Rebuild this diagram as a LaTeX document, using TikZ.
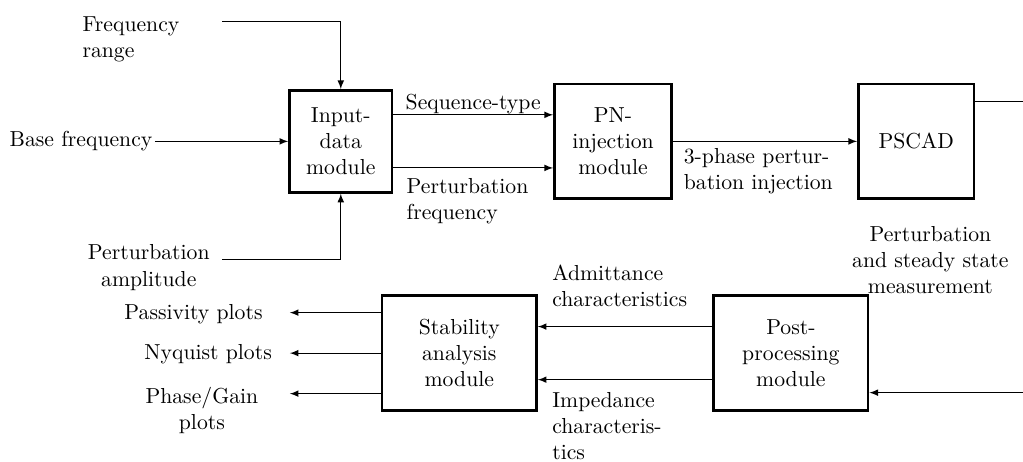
\documentclass[tikz,border=0pt]{standalone}
\usepackage{tikz}
\usetikzlibrary{arrows, calc}

\begin{document}
\begin{tikzpicture}[
        module/.style={rectangle, draw, very thick, align=center, minimum height=1.86cm},
        lbl/.style={inner sep=0pt, align=left},
        arrow/.style={->, >=latex}
    ]
        \path[use as bounding box, clip] (0,0) rectangle (16.57,7.48);

        % Modules
        \node[module, minimum width=1.66cm, minimum height=1.65cm] (input) at (5.52, 5.19) {Input-\\data\\module};
        \node[module, minimum width=1.90cm] (pn) at (9.93, 5.19) {PN-\\injection\\module};
        \node[module, minimum width=1.87cm] (pscad) at (14.84, 5.19) {PSCAD};
        \node[module, minimum width=2.50cm] (stab) at (7.44, 1.76) {Stability\\analysis\\module};
        \node[module, minimum width=2.50cm] (post) at (12.81, 1.76) {Post-\\processing\\module};

        % Inputs
        \node[lbl, anchor=north west] (freqrange) at (1.33, 7.21) {Frequency\\range};
        \coordinate (freqin) at (3.60, 7.13);
        \node[inner sep=1pt, anchor=east] (basefreq) at (2.51, 5.19) {Base frequency};
        \node[lbl, anchor=north, align=center] (pertamp) at (2.41, 3.52) {Perturbation\\amplitude};
        \coordinate (ampin) at (3.60, 3.27);

        \draw[arrow] (freqin) -| (input.north);
        \draw[arrow] (basefreq.east) -- (input.west);
        \draw[arrow] (ampin) -| (input.south);

        % Input -> PN
        \draw[arrow] ([yshift=0.43cm]input.east) -- node[above, inner sep=0pt] {Sequence-type} ([yshift=0.43cm]input.east -| pn.west);
        \draw[arrow] ([yshift=-0.43cm]input.east) -- ([yshift=-0.43cm]input.east -| pn.west);
        \node[lbl, anchor=north west] (pertfreq) at (6.58, 4.60) {Perturbation\\frequency};

        % PN -> PSCAD
        \draw[arrow] (pn) -- (pscad);
        \node[lbl, anchor=north west] (injection) at (11.07, 5.09) {3-phase pertur-\\bation injection};

        % PSCAD -> Post-processing
        \draw[arrow] ([yshift=0.64cm]pscad.east) -- ++(1.2,0) |- ([yshift=-0.64cm]post.east);
        \node[lbl, anchor=south, align=center] (measure) at (15.07, 2.71) {Perturbation\\and steady state\\measurement};

        % Post-processing -> Stability
        \draw[arrow] ([yshift=0.43cm]post.west) -- ([yshift=0.43cm]post.west -| stab.east);
        \draw[arrow] ([yshift=-0.43cm]post.west) -- ([yshift=-0.43cm]post.west -| stab.east);
        \node[lbl, anchor=south west] (admit) at (8.94, 2.51) {Admittance\\characteristics};
        \node[lbl, anchor=north west] (imped) at (8.94, 1.13) {Impedance\\characteris-\\tics};

        % Outputs
        \coordinate (passout) at ($(stab.west)+(-1.475,0.656)$);
        \coordinate (nyqout) at ($(stab.west)+(-1.475,0)$);
        \coordinate (phaseout) at ($(stab.west)+(-1.475,-0.656)$);
        \draw[arrow] ([yshift=0.656cm]stab.west) -- (passout);
        \draw[arrow] (stab.west) -- (nyqout);
        \draw[arrow] ([yshift=-0.656cm]stab.west) -- (phaseout);
        \node[inner sep=0pt, anchor=base east] (passive) at (4.26, 2.30) {Passivity plots};
        \node[inner sep=0pt, anchor=base east] (nyquist) at (4.41, 1.65) {Nyquist plots};
        \node[lbl, anchor=north, align=center] (phasegain) at (3.27, 1.22) {Phase/Gain\\plots};

    \end{tikzpicture}
\end{document}
